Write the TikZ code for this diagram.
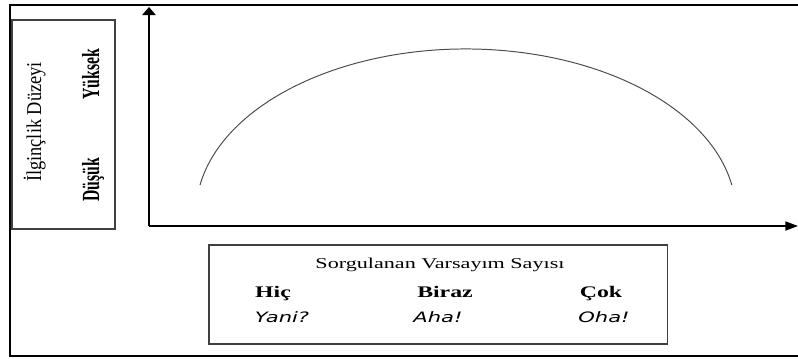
\documentclass[tikz,border=0pt]{standalone}
\usepackage{fontspec}
\setmainfont{Liberation Serif}
\newfontfamily\sansfont{DejaVu Sans}
\usetikzlibrary{arrows.meta}
\newcommand{\wide}[1]{\scalebox{1.47}[1]{#1}}
\newcommand{\narrow}[1]{\scalebox{0.64}[1]{#1}}
\tikzset{
  frame/.style={line width=1.4pt},
  box/.style={draw=black!75, line width=0.8pt, inner sep=0pt},
  axis/.style={line width=1.2pt},
  curve/.style={draw=black!70, line width=0.7pt},
  level/.style={rotate=90, anchor=base, inner sep=0pt, font=\fontsize{17.5}{18}\selectfont\bfseries},
  amount/.style={anchor=base, inner sep=0pt, font=\fontsize{11.5}{12}\selectfont\bfseries},
  reaction/.style={anchor=base, inner sep=0pt, font=\sansfont\fontsize{10.2}{12}\selectfont\itshape}
}
\begin{document}
\begin{tikzpicture}[x=0.025cm, y=-0.025cm]
  \useasboundingbox (0,0) rectangle (798,358);
  \draw[frame] (798,5) -- (10,5) -- (10,356) -- (798,356);

  \node[box, minimum width=2.575cm, minimum height=5.225cm] (levelbox) at (63.5,124.5) {};
  \node[rotate=90, anchor=base, inner sep=0pt, font=\fontsize{15}{16}\selectfont] (interest) at (41,122) {\scalebox{0.87}[1]{İlginçlik Düzeyi}};
  \node[level] (high) at (99,74) {\narrow{Yüksek}};
  \node[level] (low) at (99,180) {\narrow{Düşük}};

  \coordinate (origin) at (149,226);
  \coordinate (ytip) at (149,7);
  \coordinate (xtip) at (798,226);
  \draw[axis, -{Triangle[length=5.7pt, width=9.5pt]}] (origin) -- (ytip);
  \draw[axis, -{Triangle[length=9pt, width=6.4pt]}] (origin) -- (xtip);

  \coordinate (arcstart) at (200,185);
  \draw[curve] (arcstart) arc[start angle=190, end angle=350, x radius=270, y radius=164.6];

  \node[box, minimum width=11.45cm, minimum height=2.475cm] (countbox) at (438,294.5) {};
  \node[anchor=base, inner sep=0pt, font=\fontsize{10.7}{12}\selectfont] (title) at (440,268) {\wide{Sorgulanan Varsayım Sayısı}};
  \node[amount] (none) at (273,297) {\wide{Hiç}};
  \node[amount] (some) at (445,297) {\wide{Biraz}};
  \node[amount] (many) at (601,297) {\wide{Çok}};
  \node[reaction] (yani) at (282,322) {\wide{Yani?}};
  \node[reaction] (aha) at (438,322) {\wide{Aha!}};
  \node[reaction] (oha) at (604,322) {\wide{Oha!}};
\end{tikzpicture}
\end{document}
